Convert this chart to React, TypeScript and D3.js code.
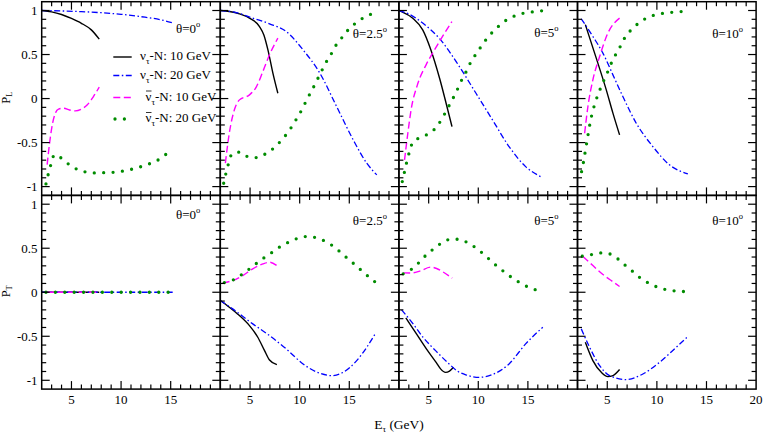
import React from 'react';
import * as d3 from 'd3';

type Pt = [number, number];

// ---------- labels ----------
const thetaLabels = ['0', '2.5', '5', '10'];
const yTickValues = [1, 0.5, 0, -0.5, -1];
const yTickLabels = ['1', '0.5', '0', '-0.5', '-1'];
const xTickValues = [5, 10, 15, 20];
const xTickLabels = ['5', '10', '15', '20'];
const rowTitles = ['L', 'T'];
const legendLabels = ['-N: 10 GeV', '-N: 20 GeV', '-N: 10 GeV', '-N: 20 GeV'];
const legendAnti = [false, false, true, true];

// ---------- P_L, theta = 0 ----------
const L0_black: Pt[] = [[2, 1.0], [3, 0.985], [4, 0.955], [5, 0.91], [6, 0.855], [7, 0.78], [7.8, 0.675]];
const L0_blue: Pt[] = [[2, 1.0], [4, 0.995], [6, 0.987], [8, 0.975], [10, 0.957], [12, 0.93], [14, 0.895], [15.2, 0.86]];
const L0_mag: Pt[] = [[2.55, -0.75], [2.8, -0.5], [3.1, -0.28], [3.4, -0.16], [3.7, -0.12], [4.2, -0.11], [4.8, -0.13], [5.4, -0.14], [6, -0.12], [6.6, -0.07], [7.2, 0.02], [7.8, 0.13]];
const L0_green: Pt[] = [[2.43, -0.97], [2.67, -0.855], [2.94, -0.745], [3.27, -0.64], [3.6, -0.65], [4.08, -0.685], [4.85, -0.757], [5.69, -0.81], [6.6, -0.837], [7.54, -0.845], [8.48, -0.84], [9.42, -0.837], [10.37, -0.82], [11.34, -0.795], [12.24, -0.765], [13.1, -0.73], [13.99, -0.68], [14.76, -0.61]];

// ---------- P_L, theta = 2.5 ----------
const L25_black: Pt[] = [[2, 1.0], [2.91, 0.989], [3.93, 0.962], [4.94, 0.913], [5.95, 0.818], [6.4, 0.72], [6.8, 0.553], [7.3, 0.289], [7.8, 0.06]];
const L25_blue: Pt[] = [[2, 1.0], [3.59, 0.977], [5.27, 0.913], [6.96, 0.849], [8.65, 0.761], [10.34, 0.553], [12.03, 0.289], [13.72, -0.09], [15.4, -0.47], [16.76, -0.734], [17.77, -0.867]];
const L25_mag: Pt[] = [[2.51, -0.734], [2.91, -0.39], [3.42, -0.128], [3.93, -0.015], [4.94, 0.042], [5.62, 0.13], [6.29, 0.307], [6.96, 0.497], [7.8, 0.686]];
const L25_green: Pt[] = [[2.34, -0.962], [2.57, -0.848], [2.84, -0.734], [3.18, -0.628], [3.99, -0.609], [4.84, -0.663], [5.72, -0.67], [6.56, -0.628], [7.37, -0.564], [8.08, -0.484], [8.72, -0.398], [9.26, -0.31], [9.8, -0.208], [10.28, -0.114], [10.74, -0.007], [11.22, 0.091], [11.7, 0.198], [12.13, 0.295], [12.61, 0.402], [13.11, 0.493], [13.62, 0.599], [14.19, 0.682], [14.8, 0.769], [15.55, 0.849], [16.36, 0.913], [17.2, 0.959]];

// ---------- P_L, theta = 5 ----------
const L5_black: Pt[] = [[2, 1.0], [2.24, 0.989], [3.4, 0.913], [4.4, 0.78], [5.2, 0.56], [6.1, 0.23], [6.75, -0.05], [7.35, -0.318]];
const L5_blue: Pt[] = [[2, 1.0], [3, 0.96], [4.4, 0.857], [6.1, 0.68], [8, 0.38], [9.77, 0.06], [11.43, -0.242], [13.1, -0.545], [14.77, -0.773], [16.27, -0.886]];
const L5_mag: Pt[] = [[2.57, -0.697], [2.9, -0.394], [3.24, -0.12], [3.85, 0.15], [4.74, 0.383], [5.4, 0.516], [6.4, 0.705], [7.34, 0.875]];
const L5_green: Pt[] = [[2.34, -0.943], [2.57, -0.829], [2.8, -0.716], [3.07, -0.602], [3.4, -0.496], [4.24, -0.439], [5.07, -0.394], [5.83, -0.318], [6.37, -0.223], [6.87, -0.12], [7.33, -0.023], [7.77, 0.072], [8.2, 0.182], [8.67, 0.28], [9.1, 0.383], [9.6, 0.477], [10.17, 0.572], [10.77, 0.667], [11.43, 0.754], [12.1, 0.826], [12.87, 0.894], [13.77, 0.943], [14.6, 0.97], [15.53, 0.985], [16.43, 0.997]];

// ---------- P_L, theta = 10 ----------
const L10_black: Pt[] = [[2.79, 0.84], [3.89, 0.459], [4.9, 0.099], [5.57, -0.166], [6.24, -0.413]];
const L10_blue: Pt[] = [[2.38, 0.906], [3.55, 0.705], [4.56, 0.516], [5.57, 0.269], [6.57, 0.023], [7.92, -0.28], [9.59, -0.545], [11.27, -0.753], [13.12, -0.856]];
const L10_mag: Pt[] = [[2.72, -0.394], [3.05, -0.09], [3.55, 0.213], [4.23, 0.477], [5.06, 0.743], [6.24, 0.913]];
const L10_green: Pt[] = [[2.41, -0.83], [2.61, -0.716], [2.78, -0.602], [2.95, -0.489], [3.29, -0.265], [3.82, -0.034], [4.16, 0.072], [4.56, 0.182], [4.96, 0.28], [5.33, 0.383], [5.8, 0.489], [6.31, 0.591], [6.74, 0.686], [7.35, 0.773], [8.08, 0.849], [8.93, 0.913], [9.83, 0.951], [10.77, 0.97], [11.71, 0.982], [12.68, 0.989]];

// ---------- P_T, theta = 0 ----------
const T0_black: Pt[] = [[2, 0], [7.8, 0]];
const T0_blue: Pt[] = [[2, 0], [15.2, 0]];
const T0_mag: Pt[] = [[2.55, 0], [7.8, 0]];
const T0_green: Pt[] = [[2.43, 0], [14.8, 0]];

// ---------- P_T, theta = 2.5 ----------
const T25_black: Pt[] = [[2, -0.094], [2.91, -0.17], [3.93, -0.265], [4.94, -0.379], [5.78, -0.511], [6.46, -0.663], [6.96, -0.769], [7.7, -0.822]];
const T25_blue: Pt[] = [[2, -0.094], [3.25, -0.189], [5.27, -0.359], [6.96, -0.492], [8.65, -0.644], [10.34, -0.814], [12.03, -0.92], [13.22, -0.947], [14.39, -0.909], [15.75, -0.776], [16.76, -0.625], [17.7, -0.455]];
const T25_mag: Pt[] = [[2.24, 0.106], [3.25, 0.133], [4.26, 0.19], [5.27, 0.266], [6.29, 0.322], [6.96, 0.341], [7.7, 0.303]];
const T25_green: Pt[] = [[2.41, 0.11], [3.32, 0.141], [4.16, 0.201], [4.94, 0.266], [5.72, 0.334], [6.49, 0.398], [7.3, 0.459], [8.11, 0.523], [8.96, 0.572], [9.83, 0.614], [10.74, 0.633], [11.7, 0.618], [12.61, 0.576], [13.38, 0.523], [14.19, 0.447], [14.94, 0.372], [15.68, 0.303], [16.42, 0.227], [17.17, 0.156], [17.84, 0.095]];

// ---------- P_T, theta = 5 ----------
const T5_black: Pt[] = [[2.7, -0.291], [3.77, -0.473], [4.77, -0.643], [5.77, -0.8], [6.2, -0.87], [6.7, -0.91], [7.1, -0.895], [7.5, -0.852]];
const T5_blue: Pt[] = [[2.27, -0.2], [3.43, -0.359], [4.43, -0.511], [5.77, -0.672], [6.93, -0.8], [7.9, -0.895], [8.8, -0.94], [10.1, -0.966], [11.43, -0.935], [13.1, -0.814], [14.77, -0.587], [16.5, -0.398]];
const T5_mag: Pt[] = [[2.43, 0.22], [3.2, 0.218], [4.1, 0.24], [5.2, 0.285], [5.8, 0.27], [6.43, 0.232], [7.37, 0.16]];
const T5_green: Pt[] = [[2.43, 0.209], [3.27, 0.262], [4.03, 0.338], [4.7, 0.417], [5.5, 0.493], [6.27, 0.557], [7.1, 0.599], [8.03, 0.602], [8.9, 0.565], [9.67, 0.511], [10.43, 0.443], [11.17, 0.368], [11.9, 0.295], [12.67, 0.227], [13.43, 0.163], [14.23, 0.106], [15.07, 0.057], [16, 0.019]];

// ---------- P_T, theta = 10 ----------
const T10_black: Pt[] = [[2.79, -0.568], [3.55, -0.776], [4.4, -0.909], [5.06, -0.958], [5.57, -0.947], [6.24, -0.878]];
const T10_blue: Pt[] = [[2.38, -0.416], [3.22, -0.625], [4.23, -0.833], [5.23, -0.947], [6.91, -0.992], [8.59, -0.928], [10.27, -0.795], [11.95, -0.625], [13.12, -0.503]];
const T10_mag: Pt[] = [[2.55, 0.405], [3.55, 0.303], [4.56, 0.201], [5.4, 0.133], [6.24, 0.065]];
const T10_green: Pt[] = [[2.48, 0.409], [3.39, 0.428], [4.33, 0.447], [5.23, 0.436], [6.11, 0.375], [6.84, 0.303], [7.58, 0.235], [8.32, 0.163], [9.13, 0.106], [10, 0.061], [10.9, 0.03], [11.85, 0.015], [12.78, 0.008]];

const rowsData: Pt[][][][] = [
  [
    [L0_black, L0_blue, L0_mag, L0_green],
    [L25_black, L25_blue, L25_mag, L25_green],
    [L5_black, L5_blue, L5_mag, L5_green],
    [L10_black, L10_blue, L10_mag, L10_green],
  ],
  [
    [T0_black, T0_blue, T0_mag, T0_green],
    [T25_black, T25_blue, T25_mag, T25_green],
    [T5_black, T5_blue, T5_mag, T5_green],
    [T10_black, T10_blue, T10_mag, T10_green],
  ],
];

// ---------- styles / layout ----------
const seriesStyles = [
  { color: '#000000', dash: undefined as string | undefined, width: 1.4, cap: 'butt' },
  { color: '#0000ff', dash: '6,2.5,1.5,2.5', width: 1.3, cap: 'butt' },
  { color: '#ff00ff', dash: '7,3.5', width: 1.4, cap: 'butt' },
  { color: '#008c00', dash: '0,9.4', width: 3.3, cap: 'round' },
];

const W = 763;
const H = 436;
const LEFT = 41.7;
const PW = 178.6;
const TOP = 1.7;
const RH = 193.7;
const FONT = "'Liberation Serif', 'Times New Roman', serif";
const labelRight = [20, 12, 19, 13];
const labelBase = [[31.5, 36.5, 35.5, 36.5], [23.8, 29.6, 29.6, 29.6]];
const legendRows = [57, 75.5, 97.5, 119];

export default function App() {
  const xs = d3.scaleLinear().domain([2, 20]).range([0, PW]);
  const ys = d3.scaleLinear().domain([-1.1, 1.1]).range([RH, 0]);
  const line = d3
    .line<Pt>()
    .x((d) => xs(d[0]))
    .y((d) => ys(d[1]))
    .curve(d3.curveMonotoneX);

  const yMinor = d3.range(-10, 11);
  const xMinor = d3.range(3, 20);

  return (
    <svg
      width={W}
      height={H}
      viewBox={`0 0 ${W} ${H}`}
      style={{ position: 'absolute', left: 0, top: 0, background: '#ffffff' }}
      fontFamily={FONT}
    >
      <rect x={0} y={0} width={W} height={H} fill="#ffffff" />
      {rowsData.map((row, ri) =>
        row.map((series, ci) => {
          const gx = LEFT + ci * PW;
          const gy = TOP + ri * RH;
          return (
            <g key={`p${ri}-${ci}`} transform={`translate(${gx},${gy})`}>
              {series.map((s, si) => {
                const st = seriesStyles[si];
                return (
                  <path
                    key={si}
                    d={line(s) || ''}
                    fill="none"
                    stroke={st.color}
                    strokeWidth={st.width}
                    strokeDasharray={st.dash}
                    strokeLinecap={st.cap as any}
                  />
                );
              })}
              {yMinor.map((k) => {
                const y = ys(k / 10);
                const len = k % 5 === 0 ? 8 : 4.5;
                return (
                  <g key={`yt${k}`} stroke="#000" strokeWidth={1.2}>
                    <line x1={0} x2={len} y1={y} y2={y} />
                    <line x1={PW} x2={PW - len} y1={y} y2={y} />
                  </g>
                );
              })}
              {xMinor.map((e) => {
                const x = xs(e);
                const len = e % 5 === 0 ? 8 : 4.5;
                return (
                  <g key={`xt${e}`} stroke="#000" strokeWidth={1.2}>
                    <line x1={x} x2={x} y1={0} y2={len} />
                    <line x1={x} x2={x} y1={RH} y2={RH - len} />
                  </g>
                );
              })}
              <rect x={0} y={0} width={PW} height={RH} fill="none" stroke="#000" strokeWidth={1.5} />
              <text
                x={PW - labelRight[ci]}
                y={labelBase[ri][ci]}
                textAnchor="end"
                fontSize={13}
                fill="#000"
              >
                θ={thetaLabels[ci]}
                <tspan dy={-6} fontSize={8.5}>o</tspan>
              </text>
            </g>
          );
        })
      )}

      {/* y tick labels */}
      {rowsData.map((_, ri) =>
        yTickValues.map((v, i) => (
          <text
            key={`yl${ri}-${i}`}
            x={37.5}
            y={TOP + ri * RH + ys(v) + 4.5}
            textAnchor="end"
            fontSize={13}
            fill="#000"
          >
            {yTickLabels[i]}
          </text>
        ))
      )}

      {/* x tick labels */}
      {thetaLabels.map((_, ci) =>
        xTickValues
          .filter((v) => v < 20 || ci === thetaLabels.length - 1)
          .map((v) => (
            <text
              key={`xl${ci}-${v}`}
              x={LEFT + ci * PW + xs(v)}
              y={403.5}
              textAnchor="middle"
              fontSize={13}
              fill="#000"
            >
              {xTickLabels[xTickValues.indexOf(v)]}
            </text>
          ))
      )}

      {/* axis titles */}
      {rowTitles.map((t, ri) => (
        <text
          key={`rt${ri}`}
          transform={`translate(10,${TOP + ri * RH + ys(0) - 1}) rotate(-90)`}
          textAnchor="middle"
          fontSize={12.5}
          fill="#000"
        >
          P<tspan dy={2} fontSize={8.5}>{t}</tspan>
        </text>
      ))}
      <text x={399} y={429} textAnchor="middle" fontSize={13.5} fill="#000">
        E<tspan dy={3} fontSize={9}>τ</tspan>
        <tspan dy={-3}> (GeV)</tspan>
      </text>

      {/* legend */}
      {legendLabels.map((lab, i) => {
        const st = seriesStyles[i];
        const y = legendRows[i];
        const tx = legendAnti[i] ? 145.5 : 140;
        return (
          <g key={`lg${i}`}>
            <line
              x1={i === 3 ? 115 : 113.3}
              x2={i === 3 ? 126 : 131.7}
              y1={y}
              y2={y}
              stroke={st.color}
              strokeWidth={st.width}
              strokeDasharray={st.dash}
              strokeLinecap={st.cap as any}
            />
            {legendAnti[i] && (
              <line x1={tx + 0.5} x2={tx + 6} y1={y - 6.5} y2={y - 6.5} stroke="#000" strokeWidth={0.8} />
            )}
            <text x={tx} y={y + 3} fontSize={13} fill="#000">
              ν<tspan dy={4} fontSize={9}>τ</tspan>
              <tspan dy={-4}>{lab}</tspan>
            </text>
          </g>
        );
      })}
    </svg>
  );
}
